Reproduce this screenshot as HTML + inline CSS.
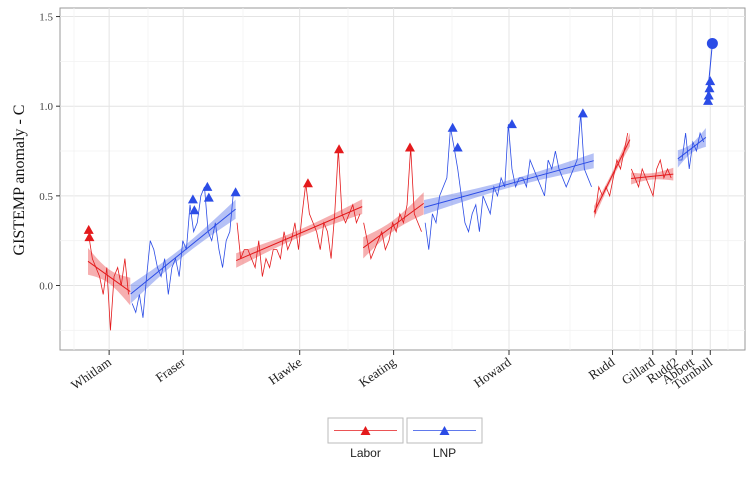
<!DOCTYPE html>
<html><head><meta charset="utf-8"><style>
body{margin:0;background:#fff}
svg{display:block;font-family:"Liberation Serif",serif}
</style></head><body>
<svg id="c" width="754" height="485" viewBox="0 0 754 485"></svg>
<script>
// quarterly GISTEMP anomaly estimates, starting 1973.0
const anomalies=[0.28,0.15,0.10,0.05,-0.05,0.10,-0.25,0.05,0.10,0.00,0.15,-0.05,
-0.10,-0.15,-0.05,-0.18,0.05,0.25,0.20,0.10,0.05,0.15,-0.05,0.10,0.15,0.05,0.25,0.20,
0.45,0.30,0.35,0.50,0.55,0.30,0.25,0.35,0.20,0.10,0.25,0.30,0.52,0.35,0.15,0.20,
0.20,0.15,0.10,0.25,0.05,0.15,0.10,0.20,0.20,0.15,0.30,0.20,0.25,0.35,0.20,0.40,
0.57,0.40,0.35,0.30,0.20,0.35,0.30,0.15,0.40,0.76,0.40,0.35,0.40,0.45,0.35,0.40,
0.35,0.25,0.15,0.20,0.25,0.30,0.20,0.25,0.35,0.30,0.40,0.35,0.45,0.77,0.40,0.35,
0.30,0.35,0.20,0.40,0.35,0.50,0.55,0.60,0.88,0.77,0.65,0.50,0.35,0.30,0.40,0.45,
0.30,0.50,0.45,0.40,0.55,0.50,0.60,0.55,0.90,0.65,0.55,0.60,0.60,0.55,0.70,0.65,
0.60,0.55,0.50,0.70,0.65,0.75,0.65,0.60,0.55,0.60,0.65,0.70,0.96,0.65,0.60,0.55,
0.40,0.55,0.50,0.55,0.50,0.60,0.70,0.65,0.75,0.85,0.65,0.60,0.55,0.65,0.60,0.55,
0.50,0.65,0.70,0.60,0.65,0.60,0.75,0.70,0.70,0.85,0.65,0.80,0.75,0.85,0.80,1.05];
const startYear=1973.0;
const termNames=["Whitlam","Fraser","Hawke","Keating","Howard","Rudd","Gillard","Rudd2","Abbott","Turnbull"];
const termParty=["Labor","LNP","Labor","Labor","LNP","Labor","Labor","Labor","LNP","LNP"];
const termStart=[1972.95,1975.87,1983.19,1991.97,1996.17,2007.92,2010.48,2013.48,2013.71,2015.71];
const termEnd=[1975.87,1983.19,1991.97,1996.17,2007.92,2010.48,2013.48,2013.71,2015.71,2016.2];
const recordTimes=[1973.0,1973.05,1980.2,1980.3,1981.2,1981.3,1983.15,1988.15,1990.3,1995.2,1998.15,1998.5,2002.25,2007.15,2015.8,2015.85,2015.9,2015.95];
const recordValues=[0.31,0.27,0.48,0.42,0.55,0.49,0.52,0.57,0.76,0.77,0.88,0.77,0.90,0.96,1.03,1.06,1.10,1.14];
const recordParty=["Labor","Labor","LNP","LNP","LNP","LNP","LNP","Labor","Labor","Labor","LNP","LNP","LNP","LNP","LNP","LNP","LNP","LNP"];
const latestTime=2016.1, latestValue=1.35;
const yTicks=[0,0.5,1.0,1.5];
const yTickLabels=["0.0","0.5","1.0","1.5"];

const NS="http://www.w3.org/2000/svg";
const svg=document.getElementById('c');
const L=60,R=745,T=8,B=350;
const X=t=>88+(t-1972.95)*14.47;
const Y=v=>285.5-v*179.3;
const col={Labor:"#e41a1c",LNP:"#2b4ce6"};
const fill={Labor:"rgba(228,26,28,0.35)",LNP:"rgba(43,76,230,0.35)"};
function mk(tag,a,parent){const e=document.createElementNS(NS,tag);for(const k in a)e.setAttribute(k,a[k]);(parent||svg).appendChild(e);return e;}

const panel=mk('rect',{x:L,y:T,width:R-L,height:B-T,fill:'#fff',stroke:'#999','stroke-width':1});


const mids=termNames.map((n,i)=>(termStart[i]+termEnd[i])/2);
for(let v=-0.25;v<=1.5;v+=0.25){const major=Math.abs(v*2-Math.round(v*2))<1e-6;
 const g=mk('line',{x1:L,x2:R,y1:Y(v),y2:Y(v),stroke:major?'#e4e4e4':'#f2f2f2','stroke-width':major?1:0.8});
 
 }
const minorX=[74,148,243,348,452,570,640,728];
minorX.forEach(x=>{const g=mk('line',{x1:x,x2:x,y1:T,y2:B,stroke:'#f2f2f2','stroke-width':0.8});
 
 });
mids.forEach(m=>{const g=mk('line',{x1:X(m),x2:X(m),y1:T,y2:B,stroke:'#e4e4e4','stroke-width':1});
 
 });

termNames.forEach((name,i)=>{
 const pts=[];
 anomalies.forEach((v,j)=>{const t=startYear+j/4;if(t>=termStart[i]&&t<termEnd[i])pts.push([t,v]);});
 if(!pts.length)return;
 const p=termParty[i];
 if(pts.length>=2){
  const ln=mk('polyline',{points:pts.map(q=>X(q[0])+','+Y(q[1])).join(' '),fill:'none',stroke:col[p],'stroke-width':0.8});
  
  
 }
 if(pts.length>=4){
  const n=pts.length,mx=pts.reduce((a,b)=>a+b[0],0)/n,my=pts.reduce((a,b)=>a+b[1],0)/n;
  let sxx=0,sxy=0;pts.forEach(q=>{sxx+=(q[0]-mx)**2;sxy+=(q[0]-mx)*(q[1]-my);});
  const b=sxx?sxy/sxx:0,a=my-b*mx;
  let ss=0;pts.forEach(q=>{ss+=(q[1]-a-b*q[0])**2;});
  const sd=Math.sqrt(ss/Math.max(1,n-2));
  const t0=Math.max(termStart[i],pts[0][0]-0.1),t1=Math.min(termEnd[i],pts[n-1][0]+0.15);
  const se=t=>1.96*sd*Math.sqrt(1/n+(sxx?(t-mx)**2/sxx:0))/Math.sqrt(3.5);
  const up=[],dn=[];
  for(let k=0;k<=10;k++){const t=t0+(t1-t0)*k/10,f=a+b*t;up.push(X(t)+','+Y(f+se(t)));dn.unshift(X(t)+','+Y(f-se(t)));}
  const rb=mk('polygon',{points:up.concat(dn).join(' '),fill:fill[p]});
  
  
  const tr=mk('line',{x1:X(t0),y1:Y(a+b*t0),x2:X(t1),y2:Y(a+b*t1),stroke:col[p],'stroke-width':1});
  
  
 }
});
const lastIdx=anomalies.length-1;
const tl=mk('line',{x1:X(startYear+lastIdx/4),y1:Y(anomalies[lastIdx]),x2:X(latestTime),y2:Y(latestValue),stroke:col.LNP,'stroke-width':1});


recordTimes.forEach((t,i)=>{
 const x=X(t),y=Y(recordValues[i]);
 const m=mk('polygon',{points:`${x-5},${y+4} ${x+5},${y+4} ${x},${y-5}`,fill:col[recordParty[i]]});
 
 
});
const dot=mk('circle',{cx:X(latestTime),cy:Y(latestValue),r:5.5,fill:col.LNP});



yTicks.forEach((v,i)=>{
 const tk=mk('line',{x1:L-4,x2:L,y1:Y(v),y2:Y(v),stroke:'#333'});
 
 
 const tx=mk('text',{x:L-7,y:Y(v)+4,'text-anchor':'end','font-size':11,fill:'#444'});
 tx.textContent=yTickLabels[i];
 
 
});
const yt=mk('text',{transform:'translate(24,180) rotate(-90)','text-anchor':'middle','font-size':16,fill:'#111'});
yt.textContent='GISTEMP anomaly - C';


mids.forEach((m,i)=>{
 const x=X(m);
 const tk=mk('line',{x1:x,x2:x,y1:B,y2:B+5,stroke:'#333'});
 
 
 const tx=mk('text',{transform:`translate(${x+3},${B+14}) rotate(-35)`,'text-anchor':'end','font-size':13,fill:'#222'});
 tx.textContent=termNames[i];
 
 
});
[["Labor",328],["LNP",407]].forEach(([p,x0])=>{
 const g=mk('g',{});
 
 
 mk('rect',{x:x0,y:418,width:75,height:25,fill:'#fff',stroke:'#bbb'},g);
 mk('line',{x1:x0+6,x2:x0+69,y1:430.5,y2:430.5,stroke:col[p],'stroke-width':0.8},g);
 const cx=x0+37.5;
 mk('polygon',{points:`${cx-5},${435} ${cx+5},${435} ${cx},${426}`,fill:col[p]},g);
 const t=mk('text',{x:cx,y:457,'text-anchor':'middle','font-size':12,fill:'#222','font-family':'Liberation Sans, sans-serif'},g);
 t.textContent=p;
});
</script>
</body></html>
